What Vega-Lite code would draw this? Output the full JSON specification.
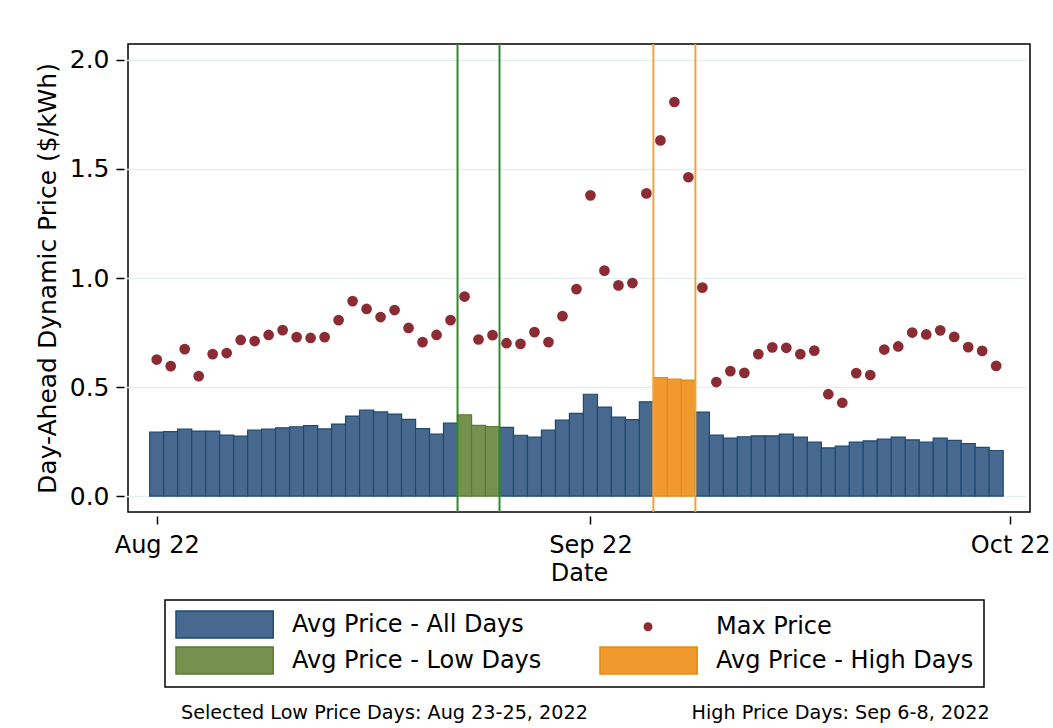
{
  "$schema": "https://vega.github.io/schema/vega-lite/v6.json",
  "autosize": {"type": "none"},
  "padding": {"left": 128, "top": 44, "right": 23, "bottom": 216},
  "width": 902,
  "height": 468,
  "background": "white",
  "config": {
    "view": {"stroke": "black", "strokeWidth": 1.5},
    "font": "DejaVu Sans",
    "axis": {
      "labelFont": "DejaVu Sans",
      "titleFont": "DejaVu Sans",
      "labelColor": "black",
      "titleColor": "black",
      "titleFontWeight": "normal",
      "tickColor": "black",
      "tickWidth": 1.5,
      "tickSize": 8,
      "domain": false,
      "offset": 4
    }
  },
  "title": {
    "text": "Selected Low Price Days: Aug 23-25, 2022\u00a0\u00a0\u00a0\u00a0\u00a0\u00a0\u00a0\u00a0\u00a0\u00a0\u00a0\u00a0\u00a0\u00a0\u00a0\u00a0\u00a0High Price Days: Sep 6-8, 2022",
    "orient": "bottom",
    "anchor": "start",
    "frame": "group",
    "dx": 53,
    "offset": 16,
    "font": "DejaVu Sans",
    "fontSize": 19.2,
    "fontWeight": "normal",
    "color": "black"
  },
  "datasets": {
    "prices": [
      {"date": "2022-08-01", "avg": 0.293, "max": 0.626, "series": "Avg Price - All Days"},
      {"date": "2022-08-02", "avg": 0.296, "max": 0.596, "series": "Avg Price - All Days"},
      {"date": "2022-08-03", "avg": 0.307, "max": 0.674, "series": "Avg Price - All Days"},
      {"date": "2022-08-04", "avg": 0.298, "max": 0.550, "series": "Avg Price - All Days"},
      {"date": "2022-08-05", "avg": 0.298, "max": 0.651, "series": "Avg Price - All Days"},
      {"date": "2022-08-06", "avg": 0.280, "max": 0.656, "series": "Avg Price - All Days"},
      {"date": "2022-08-07", "avg": 0.275, "max": 0.716, "series": "Avg Price - All Days"},
      {"date": "2022-08-08", "avg": 0.302, "max": 0.711, "series": "Avg Price - All Days"},
      {"date": "2022-08-09", "avg": 0.307, "max": 0.739, "series": "Avg Price - All Days"},
      {"date": "2022-08-10", "avg": 0.313, "max": 0.761, "series": "Avg Price - All Days"},
      {"date": "2022-08-11", "avg": 0.318, "max": 0.729, "series": "Avg Price - All Days"},
      {"date": "2022-08-12", "avg": 0.323, "max": 0.725, "series": "Avg Price - All Days"},
      {"date": "2022-08-13", "avg": 0.308, "max": 0.729, "series": "Avg Price - All Days"},
      {"date": "2022-08-14", "avg": 0.330, "max": 0.807, "series": "Avg Price - All Days"},
      {"date": "2022-08-15", "avg": 0.367, "max": 0.894, "series": "Avg Price - All Days"},
      {"date": "2022-08-16", "avg": 0.394, "max": 0.858, "series": "Avg Price - All Days"},
      {"date": "2022-08-17", "avg": 0.386, "max": 0.821, "series": "Avg Price - All Days"},
      {"date": "2022-08-18", "avg": 0.376, "max": 0.853, "series": "Avg Price - All Days"},
      {"date": "2022-08-19", "avg": 0.352, "max": 0.771, "series": "Avg Price - All Days"},
      {"date": "2022-08-20", "avg": 0.309, "max": 0.706, "series": "Avg Price - All Days"},
      {"date": "2022-08-21", "avg": 0.284, "max": 0.739, "series": "Avg Price - All Days"},
      {"date": "2022-08-22", "avg": 0.335, "max": 0.807, "series": "Avg Price - All Days"},
      {"date": "2022-08-23", "avg": 0.373, "max": 0.915, "series": "Avg Price - Low Days"},
      {"date": "2022-08-24", "avg": 0.324, "max": 0.718, "series": "Avg Price - Low Days"},
      {"date": "2022-08-25", "avg": 0.319, "max": 0.738, "series": "Avg Price - Low Days"},
      {"date": "2022-08-26", "avg": 0.315, "max": 0.701, "series": "Avg Price - All Days"},
      {"date": "2022-08-27", "avg": 0.279, "max": 0.698, "series": "Avg Price - All Days"},
      {"date": "2022-08-28", "avg": 0.271, "max": 0.752, "series": "Avg Price - All Days"},
      {"date": "2022-08-29", "avg": 0.303, "max": 0.706, "series": "Avg Price - All Days"},
      {"date": "2022-08-30", "avg": 0.348, "max": 0.825, "series": "Avg Price - All Days"},
      {"date": "2022-08-31", "avg": 0.379, "max": 0.949, "series": "Avg Price - All Days"},
      {"date": "2022-09-01", "avg": 0.467, "max": 1.379, "series": "Avg Price - All Days"},
      {"date": "2022-09-02", "avg": 0.408, "max": 1.034, "series": "Avg Price - All Days"},
      {"date": "2022-09-03", "avg": 0.362, "max": 0.966, "series": "Avg Price - All Days"},
      {"date": "2022-09-04", "avg": 0.351, "max": 0.977, "series": "Avg Price - All Days"},
      {"date": "2022-09-05", "avg": 0.432, "max": 1.388, "series": "Avg Price - All Days"},
      {"date": "2022-09-06", "avg": 0.543, "max": 1.631, "series": "Avg Price - High Days"},
      {"date": "2022-09-07", "avg": 0.536, "max": 1.807, "series": "Avg Price - High Days"},
      {"date": "2022-09-08", "avg": 0.532, "max": 1.462, "series": "Avg Price - High Days"},
      {"date": "2022-09-09", "avg": 0.385, "max": 0.956, "series": "Avg Price - All Days"},
      {"date": "2022-09-10", "avg": 0.280, "max": 0.523, "series": "Avg Price - All Days"},
      {"date": "2022-09-11", "avg": 0.266, "max": 0.573, "series": "Avg Price - All Days"},
      {"date": "2022-09-12", "avg": 0.272, "max": 0.565, "series": "Avg Price - All Days"},
      {"date": "2022-09-13", "avg": 0.276, "max": 0.651, "series": "Avg Price - All Days"},
      {"date": "2022-09-14", "avg": 0.276, "max": 0.682, "series": "Avg Price - All Days"},
      {"date": "2022-09-15", "avg": 0.284, "max": 0.680, "series": "Avg Price - All Days"},
      {"date": "2022-09-16", "avg": 0.271, "max": 0.651, "series": "Avg Price - All Days"},
      {"date": "2022-09-17", "avg": 0.248, "max": 0.667, "series": "Avg Price - All Days"},
      {"date": "2022-09-18", "avg": 0.221, "max": 0.467, "series": "Avg Price - All Days"},
      {"date": "2022-09-19", "avg": 0.229, "max": 0.428, "series": "Avg Price - All Days"},
      {"date": "2022-09-20", "avg": 0.248, "max": 0.564, "series": "Avg Price - All Days"},
      {"date": "2022-09-21", "avg": 0.253, "max": 0.555, "series": "Avg Price - All Days"},
      {"date": "2022-09-22", "avg": 0.261, "max": 0.672, "series": "Avg Price - All Days"},
      {"date": "2022-09-23", "avg": 0.270, "max": 0.686, "series": "Avg Price - All Days"},
      {"date": "2022-09-24", "avg": 0.258, "max": 0.750, "series": "Avg Price - All Days"},
      {"date": "2022-09-25", "avg": 0.248, "max": 0.741, "series": "Avg Price - All Days"},
      {"date": "2022-09-26", "avg": 0.266, "max": 0.760, "series": "Avg Price - All Days"},
      {"date": "2022-09-27", "avg": 0.255, "max": 0.730, "series": "Avg Price - All Days"},
      {"date": "2022-09-28", "avg": 0.241, "max": 0.683, "series": "Avg Price - All Days"},
      {"date": "2022-09-29", "avg": 0.223, "max": 0.666, "series": "Avg Price - All Days"},
      {"date": "2022-09-30", "avg": 0.209, "max": 0.597, "series": "Avg Price - All Days"}
    ],
    "bounds": [
      {"date": "2022-08-22T12:00:00Z", "kind": "low"},
      {"date": "2022-08-25T12:00:00Z", "kind": "low"},
      {"date": "2022-09-05T12:00:00Z", "kind": "high"},
      {"date": "2022-09-08T12:00:00Z", "kind": "high"}
    ]
  },
  "encoding": {
    "x": {
      "field": "date",
      "type": "temporal",
      "title": "Date",
      "scale": {
        "type": "utc",
        "domain": [
          {"year": 2022, "month": 7, "date": 30, "hours": 7, "minutes": 18, "utc": true},
          {"year": 2022, "month": 10, "date": 2, "hours": 1, "minutes": 26, "utc": true}
        ]
      },
      "axis": {
        "values": [
          {"year": 2022, "month": 8, "date": 1, "utc": true},
          {"year": 2022, "month": 9, "date": 1, "utc": true},
          {"year": 2022, "month": 10, "date": 1, "utc": true}
        ],
        "format": "%b %y",
        "labelFontSize": 24,
        "titleFontSize": 24,
        "labelPadding": 9,
        "titlePadding": 4,
        "labelFlush": false,
        "labelBound": false,
        "labelOverlap": false,
        "grid": false
      }
    }
  },
  "layer": [
    {
      "data": {"name": "prices"},
      "mark": {"type": "bar", "width": 14.1, "strokeWidth": 1.2},
      "encoding": {
        "y": {
          "field": "avg",
          "type": "quantitative",
          "title": "Day-Ahead Dynamic Price ($/kWh)",
          "scale": {"domain": [-0.073, 2.073], "nice": false, "zero": false},
          "axis": {
            "values": [0, 0.5, 1, 1.5, 2],
            "format": ".1f",
            "labelFontSize": 25,
            "titleFontSize": 25,
            "labelPadding": 7,
            "titlePadding": 9,
            "grid": true,
            "gridColor": "#e6edf1",
            "gridWidth": 1.5
          }
        },
        "y2": {"datum": 0},
        "color": {
          "field": "series",
          "type": "nominal",
          "scale": {
            "domain": ["Avg Price - All Days", "Avg Price - Low Days", "Max Price", "Avg Price - High Days"],
            "range": ["#47698f", "#76904f", "#8b2c34", "#f0992e"]
          },
          "legend": {
            "orient": "none",
            "legendX": 37,
            "legendY": 556,
            "columns": 2,
            "title": null,
            "symbolSize": 729,
            "labelFont": "DejaVu Sans",
            "labelFontSize": 24,
            "labelColor": "black",
            "labelLimit": 0,
            "labelOffset": 88,
            "columnPadding": 55,
            "rowPadding": 3,
            "padding": 10,
            "strokeColor": "black",
            "encode": {
              "legend": {"update": {"strokeWidth": {"value": 1.5}}},
              "symbols": {
                "update": {
                  "shape": {"signal": "datum.value === 'Max Price' ? 'M2.556,-0.333A0.333,0.333,0,1,1,2.556,0.333A0.333,0.333,0,1,1,2.556,-0.333Z' : 'M-1,-1H6.2V1H-1Z'"},
                  "stroke": {"signal": "datum.value === 'Avg Price - All Days' ? '#1d4a73' : datum.value === 'Avg Price - Low Days' ? '#5b7a35' : datum.value === 'Avg Price - High Days' ? '#e58a14' : 'transparent'"},
                  "strokeWidth": {"value": 1.5},
                  "opacity": {"value": 1}
                }
              }
            }
          }
        },
        "stroke": {
          "field": "series",
          "type": "nominal",
          "scale": {
            "domain": ["Avg Price - All Days", "Avg Price - Low Days", "Avg Price - High Days"],
            "range": ["#1d4a73", "#5b7a35", "#e58a14"]
          },
          "legend": null
        }
      }
    },
    {
      "data": {"name": "bounds"},
      "mark": {"type": "rule", "strokeWidth": 2},
      "encoding": {
        "stroke": {
          "field": "kind",
          "type": "nominal",
          "scale": {"domain": ["low", "high"], "range": ["#2f8a2a", "#f0a23c"]},
          "legend": null
        }
      }
    },
    {
      "data": {"name": "prices"},
      "mark": {"type": "point", "filled": true, "size": 115, "opacity": 1},
      "encoding": {
        "y": {"field": "max", "type": "quantitative"},
        "color": {"datum": "Max Price"}
      }
    }
  ],
  "resolve": {"scale": {"stroke": "independent"}}
}
